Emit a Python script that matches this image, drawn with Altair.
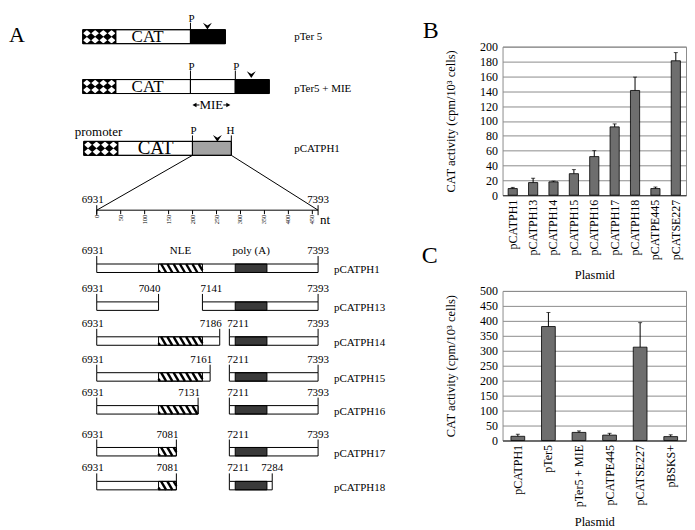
import altair as alt
import pandas as pd

SERIF = "Liberation Serif"

# ======================= DATA =======================
# Panel B
plasmids_b = ["pCATPH1", "pCATPH13", "pCATPH14", "pCATPH15", "pCATPH16",
              "pCATPH17", "pCATPH18", "pCATPE445", "pCATSE227"]
activity_b = [9, 17, 18, 29, 52, 92, 141, 9, 181]
sd_b = [1.5, 6, 1, 5.5, 8, 4, 18, 2, 11]
ticks_b = [0, 20, 40, 60, 80, 100, 120, 140, 160, 180, 200]

# Panel C
plasmids_c = ["pCATPH1", "pTer5", "pTer5 + MIE", "pCATPE445", "pCATSE227", "pBSKS+"]
activity_c = [14, 381, 27, 18, 312, 13]
sd_c = [7, 47, 5, 6, 82, 6]
ticks_c = [0, 50, 100, 150, 200, 250, 300, 350, 400, 450, 500]

# Panel A : constructs
construct_names = ["pTer 5", "pTer5 + MIE", "pCATPH1"]
deletion_names = ["pCATPH1", "pCATPH13", "pCATPH14", "pCATPH15",
                  "pCATPH16", "pCATPH17", "pCATPH18"]
deletion_segments = [
    [(6931, 7393)],
    [(6931, 7040), (7141, 7393)],
    [(6931, 7186), (7211, 7393)],
    [(6931, 7161), (7211, 7393)],
    [(6931, 7131), (7211, 7393)],
    [(6931, 7081), (7211, 7393)],
    [(6931, 7081), (7211, 7284)],
]
nle_region = (7040, 7141)
polya_region = (7221, 7275)
region_start, region_end = 6931, 7393
ruler_ticks = [0, 50, 100, 150, 200, 250, 300, 350, 400, 450]
ruler_length = region_end - region_start

# ======================= LAYOUT =======================
W_A, H_A = 495, 514
W_BC, H_B, H_C = 184, 149, 150
GAP_TOP, GAP_MID = 34, 96

# schematic is not drawn to scale: piecewise nt -> px mapping
NT_BREAKS = [6931, 7040, 7141, 7211, 7284, 7393]
NT_PX = [88, 150, 194, 221, 264, 310]
RULER_PX = [88, 310]

XS = alt.Scale(domain=[0, W_A], range=[0, W_A], nice=False, zero=False)
YS = alt.Scale(domain=[0, H_A], reverse=True, nice=False, zero=False)
NTS = alt.Scale(domain=NT_BREAKS, range=NT_PX, nice=False, zero=False)
RS = alt.Scale(domain=[0, ruler_length], range=RULER_PX, nice=False, zero=False)


def rect_layer(df, xscale, **kw):
    return alt.Chart(df).mark_rect(**kw).encode(
        x=alt.X("x:Q", scale=xscale, axis=None), x2="x2:Q",
        y=alt.Y("y:Q", scale=YS, axis=None), y2="y2:Q")


def rule_layer(df, xscale, **kw):
    return alt.Chart(df).mark_rule(**kw).encode(
        x=alt.X("x:Q", scale=xscale, axis=None), x2="x2:Q",
        y=alt.Y("y:Q", scale=YS, axis=None), y2="y2:Q")


def text_layer(df, xscale, align, dx=0):
    return alt.Chart(df).mark_text(font=SERIF, align=align, baseline="alphabetic",
                                   color="black", dx=dx).encode(
        x=alt.X("x:Q", scale=xscale, axis=None),
        y=alt.Y("y:Q", scale=YS, axis=None),
        text="t:N",
        size=alt.Size("fs:Q", scale=None, legend=None))


def point_layer(df, xscale, shape, size, color):
    return alt.Chart(df).mark_point(shape=shape, size=size, filled=True, color=color,
                                    opacity=1, strokeWidth=0).encode(
        x=alt.X("x:Q", scale=xscale, axis=None),
        y=alt.Y("y:Q", scale=YS, axis=None))


# ---------- top constructs (px units) ----------
BOX_H = 14
top_y = [17, 67, 129]
parts = [
    (0, 74, 107, "promoter"), (0, 107, 182, "cat"), (0, 182, 217, "term"),
    (1, 74, 107, "promoter"), (1, 107, 182, "cat"), (1, 182, 227, "mie"), (1, 227, 261, "term"),
    (2, 75, 109, "promoter"), (2, 109, 184, "cat"), (2, 184, 223, "utr"),
]
fill_of = {"promoter": "black", "cat": "white", "term": "black", "mie": "white", "utr": "#a3a3a3"}
parts_df = pd.DataFrame([
    dict(x=a, x2=b, y=top_y[r], y2=top_y[r] + BOX_H, fill=fill_of[k]) for r, a, b, k in parts])

diam = []
for r, a, b, k in parts:
    if k == "promoter":
        w = (b - a) / 4
        for i in range(4):
            for j in range(2):
                diam.append(dict(x=a + w * (i + 0.5), y=top_y[r] + BOX_H * (0.25 + 0.5 * j)))
diam_df = pd.DataFrame(diam)

top_lines = pd.DataFrame([
    dict(x=182, x2=182, y=10, y2=17),
    dict(x=182, x2=182, y=58, y2=67), dict(x=227, x2=227, y=58, y2=67),
    dict(x=184, x2=184, y=123, y2=129), dict(x=223, x2=223, y=123, y2=129),
    dict(x=184, x2=88, y=143, y2=198), dict(x=223, x2=310, y=143, y2=198),
    dict(x=186, x2=191, y=92.5, y2=92.5), dict(x=215, x2=220, y=92.5, y2=92.5),
])
arrow_df = pd.DataFrame([dict(x=199, y=13.5), dict(x=243, y=62), dict(x=209, y=126)])
mie_l = pd.DataFrame([dict(x=186, y=92.5)])
mie_r = pd.DataFrame([dict(x=220, y=92.5)])

# detail row layout
det_top = [252, 290, 325, 361, 394, 436, 470]
DET_H = 8.5

top_text_c = pd.DataFrame([
    dict(x=183, y=9, t="P", fs=11), dict(x=139, y=29.5, t="CAT", fs=17),
    dict(x=183, y=57, t="P", fs=11), dict(x=228, y=57, t="P", fs=11),
    dict(x=139, y=79.5, t="CAT", fs=17), dict(x=203, y=96.5, t="MIE", fs=13),
    dict(x=185, y=122, t="P", fs=11), dict(x=222, y=122, t="H", fs=11),
    dict(x=147, y=142, t="CAT", fs=19),
])
left_items = [
    dict(x=0, y=29, t="A", fs=22), dict(x=415, y=25, t="B", fs=24),
    dict(x=414, y=251, t="C", fs=24), dict(x=66, y=124, t="promoter", fs=13),
    dict(x=312, y=212, t="nt", fs=13),
    dict(x=286, y=27, t=construct_names[0], fs=11),
    dict(x=286, y=79, t=construct_names[1], fs=11),
    dict(x=286, y=140, t=construct_names[2], fs=11),
]
for r, nm in enumerate(deletion_names):
    left_items.append(dict(x=326, y=det_top[r] + DET_H + 1, t=nm, fs=11))
top_text_l = pd.DataFrame(left_items)

top_layer = alt.layer(
    rect_layer(parts_df, XS, stroke="black", strokeWidth=1).encode(color=alt.Color("fill:N", scale=None)),
    point_layer(diam_df, XS, "M0,-0.85L1,0L0,0.85L-1,0Z", 60, "white"),
    rect_layer(parts_df, XS, stroke="black", strokeWidth=1, fillOpacity=0),
    rule_layer(top_lines, XS, color="black", strokeWidth=1),
    point_layer(arrow_df, XS, "M-1,-0.75L0,-0.15L1,-0.75L0,0.75Z", 81, "black"),
    point_layer(mie_l, XS, "triangle-left", 22, "black"),
    point_layer(mie_r, XS, "triangle-right", 22, "black"),
    text_layer(top_text_c, XS, "center"),
    text_layer(top_text_l, XS, "left"),
)

# ---------- ruler (nt offset units) ----------
ruler_line = pd.DataFrame([dict(x=0, x2=ruler_length, y=198, y2=198)])
ruler_tk = pd.DataFrame([dict(x=t, x2=t, y=198, y2=202) for t in ruler_ticks] +
                        [dict(x=0, x2=0, y=193, y2=203),
                         dict(x=ruler_length, x2=ruler_length, y=193, y2=203)])
ruler_lab = pd.DataFrame([dict(x=t, y=202.5, t=str(t)) for t in ruler_ticks])
ruler_ends = pd.DataFrame([dict(x=0, y=191, t=str(region_start), fs=11)])
ruler_ends2 = pd.DataFrame([dict(x=ruler_length, y=191, t=str(region_end), fs=11)])

ruler_layer = alt.layer(
    rule_layer(ruler_line, RS, color="black", strokeWidth=1),
    rule_layer(ruler_tk, RS, color="black", strokeWidth=1),
    alt.Chart(ruler_lab).mark_text(font=SERIF, fontSize=6.5, angle=270, align="right",
                                    baseline="middle", color="black").encode(
        x=alt.X("x:Q", scale=RS, axis=None), y=alt.Y("y:Q", scale=YS, axis=None), text="t:N"),
    text_layer(ruler_ends, RS, "center", dx=-4),
    text_layer(ruler_ends2, RS, "center"),
)

# ---------- deletion rows (nt units) ----------
seg_rows, nle_rows, pa_rows, stripes, ends = [], [], [], [], []
lab_c_first, lab_c_last, lab_l, lab_r = [], [], [], []
RUN, STEP = 11.5, 14.4
for r, segs in enumerate(deletion_segments):
    t = det_top[r]
    base = t - 10
    for k, (a, b) in enumerate(segs):
        seg_rows.append(dict(x=a, x2=b, y=t, y2=t + DET_H))
        lo, hi = max(a, nle_region[0]), min(b, nle_region[1])
        if hi > lo:
            nle_rows.append(dict(x=lo, x2=hi, y=t, y2=t + DET_H))
            u = nle_region[0] - RUN + 3
            while u < nle_region[1]:
                t0 = max(0.0, (lo - u) / RUN)
                t1 = min(1.0, (hi - u) / RUN)
                if t1 > t0:
                    stripes.append(dict(x=u + RUN * t0, x2=u + RUN * t1,
                                        y=t + DET_H * t0, y2=t + DET_H * t1))
                u += STEP
        lo, hi = max(a, polya_region[0]), min(b, polya_region[1])
        if hi > lo:
            pa_rows.append(dict(x=lo, x2=hi, y=t, y2=t + DET_H))
        for v in (a, b):
            ends.append(dict(x=v, x2=v, y=base + 2, y2=t))
        if k == 0:
            lab_c_first.append(dict(x=a, y=base, t=str(a), fs=11))
        else:
            lab_l.append(dict(x=a, y=base, t=str(a), fs=11))
        if k == len(segs) - 1:
            lab_c_last.append(dict(x=b, y=base, t=str(b), fs=11))
        else:
            lab_r.append(dict(x=b, y=base, t=str(b), fs=11))

feat_lab = pd.DataFrame([
    dict(x=sum(nle_region) / 2, y=det_top[0] - 10, t="NLE", fs=11),
    dict(x=sum(polya_region) / 2, y=det_top[0] - 10, t="poly (A)", fs=11),
])

detail_layer = alt.layer(
    rect_layer(pd.DataFrame(seg_rows), NTS, fill="white"),
    rect_layer(pd.DataFrame(pa_rows), NTS, fill="#3a3a3a", stroke="black", strokeWidth=1),
    rule_layer(pd.DataFrame(stripes), NTS, color="black", strokeWidth=2.4, strokeCap="butt"),
    rect_layer(pd.DataFrame(nle_rows), NTS, fillOpacity=0, stroke="black", strokeWidth=1),
    rect_layer(pd.DataFrame(seg_rows), NTS, fillOpacity=0, stroke="black", strokeWidth=1),
    rule_layer(pd.DataFrame(ends), NTS, color="black", strokeWidth=1),
    text_layer(pd.DataFrame(lab_c_first), NTS, "center", dx=-4),
    text_layer(pd.DataFrame(lab_c_last), NTS, "center"),
    text_layer(pd.DataFrame(lab_l), NTS, "left", dx=-2),
    text_layer(pd.DataFrame(lab_r), NTS, "right", dx=2),
    text_layer(feat_lab, NTS, "center"),
)

panel_a = alt.layer(top_layer, ruler_layer, detail_layer).resolve_scale(
    x="independent").properties(width=W_A, height=H_A)


# ---------- bar panels ----------
def bar_panel(cats, vals, errs, ticks, h):
    df = pd.DataFrame({"plasmid": cats, "activity": vals, "sd": errs})
    df["upper"] = df["activity"] + df["sd"]
    xax = alt.Axis(title="Plasmid", labelAngle=270, ticks=False, domainColor="#333333",
                   labelPadding=4, titlePadding=9, labelFont=SERIF, labelFontSize=12,
                   labelColor="black", titleFont=SERIF, titleFontSize=12.5,
                   titleFontWeight="normal", titleColor="black", labelOverlap=False)
    yax = alt.Axis(title="CAT activity (cpm/10³ cells)", values=ticks, grid=True,
                   gridColor="#8c8c8c", gridWidth=1, ticks=False, domain=False,
                   labelOverlap=False, labelPadding=5, titlePadding=22,
                   labelFont=SERIF, labelFontSize=12,
                   labelColor="black", titleFont=SERIF, titleFontSize=12.5,
                   titleFontWeight="normal", titleColor="black")
    xs = alt.Scale(paddingInner=0.55, paddingOuter=0.275)
    ys = alt.Scale(domain=[ticks[0], ticks[-1]], nice=False)
    X = alt.X("plasmid:N", sort=cats, scale=xs, axis=xax)
    bars = alt.Chart(df).mark_bar(fill="#6e6e6e", stroke="black", strokeWidth=0.8).encode(
        x=X, y=alt.Y("activity:Q", scale=ys, axis=yax))
    whisk = alt.Chart(df).mark_rule(color="black", strokeWidth=1).encode(
        x=X, y=alt.Y("activity:Q", scale=ys, axis=yax), y2=alt.Y2("upper"))
    cap = alt.Chart(df).mark_tick(color="black", thickness=1, size=4).encode(
        x=X, y=alt.Y("upper:Q", scale=ys, axis=yax))
    return alt.layer(bars, whisk, cap).properties(
        width=W_BC, height=h, view=alt.ViewBackground(stroke="#8c8c8c", strokeWidth=1))


def spacer(h):
    return alt.Chart(pd.DataFrame({"v": [0]})).mark_point(opacity=0).encode(
        x=alt.value(0), y=alt.value(0)).properties(width=W_BC, height=h)


panel_b = bar_panel(plasmids_b, activity_b, sd_b, ticks_b, H_B)
panel_c = bar_panel(plasmids_c, activity_c, sd_c, ticks_c, H_C)

right = alt.vconcat(spacer(GAP_TOP), panel_b, spacer(GAP_MID), panel_c,
                    spacing=0, bounds="flush")

chart = alt.hconcat(panel_a, right, spacing=0, bounds="flush").properties(
    padding=0, background="white").configure_view(stroke="transparent")

chart.save("out.html", embed_options={"renderer": "svg", "actions": False})
